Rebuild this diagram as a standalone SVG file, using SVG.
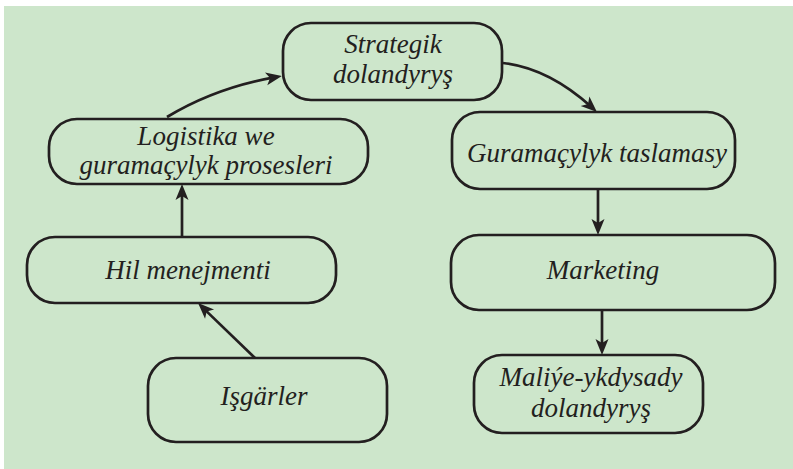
<svg xmlns="http://www.w3.org/2000/svg" width="793" height="469" viewBox="0 0 793 469">
<style>
.box{fill:none;stroke:#231f20;stroke-width:2.7}
.lbl{font-family:"Liberation Serif","Times New Roman",serif;font-style:italic;font-size:27px;fill:#231f20;text-anchor:middle}
.con{fill:none;stroke:#231f20;stroke-width:2.7}
</style>
<defs>
<marker id="ah" viewBox="-9 -8 18 16" markerWidth="18" markerHeight="16" refX="0" refY="0" orient="auto" markerUnits="userSpaceOnUse">
<path d="M8,0 L-8,-6.5 L-4,0 L-8,6.5 Z" fill="#231f20"/>
</marker>
</defs>
<rect x="0" y="0" width="793" height="469" fill="#ffffff"/>
<rect x="4" y="6" width="789" height="463" fill="#cde6cb"/>
<g id="n-strategik">
<rect class="box" x="283" y="23" width="219" height="77" rx="28"/>
<text class="lbl" x="393" y="53">Strategik</text>
<text class="lbl" x="393" y="83">dolandyryş</text>
</g>
<g id="n-logistika">
<rect class="box" x="49" y="119" width="319" height="65" rx="28"/>
<text class="lbl" x="206" y="145">Logistika we</text>
<text class="lbl" x="206" y="174">guramaçylyk prosesleri</text>
</g>
<g id="n-hil">
<rect class="box" x="27" y="237" width="309" height="66" rx="28"/>
<text class="lbl" x="188" y="279">Hil menejmenti</text>
</g>
<g id="n-isgarler">
<rect class="box" x="148" y="358" width="239" height="84" rx="28"/>
<text class="lbl" x="264" y="405">Işgärler</text>
</g>
<g id="n-taslamasy">
<rect class="box" x="452" y="112" width="283" height="77" rx="28"/>
<text class="lbl" x="597" y="162">Guramaçylyk taslamasy</text>
</g>
<g id="n-marketing">
<rect class="box" x="451" y="235" width="324" height="75" rx="28"/>
<text class="lbl" x="603" y="279">Marketing</text>
</g>
<g id="n-maliye">
<rect class="box" x="474" y="355" width="229" height="78" rx="28"/>
<text class="lbl" x="591" y="386">Maliýe-ykdysady</text>
<text class="lbl" x="591" y="417">dolandyryş</text>
</g>
<g id="connectors">
<path class="con" d="M167,117 Q215,88 274,77.4" marker-end="url(#ah)"/>
<path class="con" d="M503,63 Q548,68 591,106.6" marker-end="url(#ah)"/>
<path class="con" d="M182,237 L182,192" marker-end="url(#ah)"/>
<path class="con" d="M255,358 L203.8,308.6" marker-end="url(#ah)"/>
<path class="con" d="M598,189 L598,227" marker-end="url(#ah)"/>
<path class="con" d="M602,310 L602,347" marker-end="url(#ah)"/>
</g>
</svg>
